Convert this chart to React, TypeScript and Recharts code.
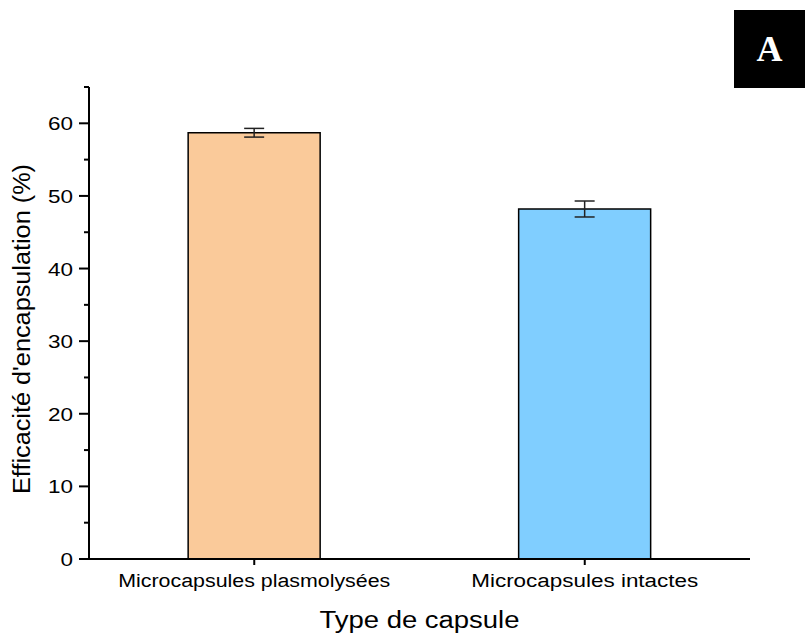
import React from 'react';
import { BarChart, Bar, XAxis, YAxis, ErrorBar, Cell } from 'recharts';

const categories = ['Microcapsules plasmolysées', 'Microcapsules intactes'];
const efficacite = [58.7, 48.2];
const ecartType = [0.6, 1.1];
const barColors = ['#FACA9A', '#80CEFF'];
const yTicks = [0, 5, 10, 15, 20, 25, 30, 35, 40, 45, 50, 55, 60, 65];

const data = categories.map((name, i) => ({ name, value: efficacite[i], err: ecartType[i] }));

const FONT = '"Liberation Sans", Arial, sans-serif';

// Approximate rendered widths for the long labels (Arial-like, slightly wide)
const xTickWidths: Record<string, number> = {
  'Microcapsules plasmolysées': 272,
  'Microcapsules intactes': 227,
};

const YTick = (props: any) => {
  const { x, y, payload } = props;
  const major = payload.value % 10 === 0 && payload.value !== 65;
  const len = major ? 10 : 5;
  const label = String(payload.value);
  return (
    <g>
      <line x1={x - len} x2={x} y1={y} y2={y} stroke="#000" strokeWidth={2} />
      {major && (
        <text
          x={x - 16}
          y={y}
          dy={7}
          textAnchor="end"
          fontSize={19}
          fill="#000"
          fontFamily={FONT}
          textLength={label.length * 12.5}
          lengthAdjust="spacingAndGlyphs"
        >
          {label}
        </text>
      )}
    </g>
  );
};

const XTick = (props: any) => {
  const { x, y, payload } = props;
  const w = xTickWidths[payload.value];
  return (
    <text
      x={x}
      y={y}
      dy={16}
      textAnchor="middle"
      fontSize={18}
      fill="#000"
      fontFamily={FONT}
      textLength={w}
      lengthAdjust="spacingAndGlyphs"
    >
      {payload.value}
    </text>
  );
};

const YLabel = (props: any) => {
  const { viewBox } = props;
  const cx = 22;
  const cy = viewBox.y + viewBox.height / 2 + 6;
  return (
    <text
      x={cx}
      y={cy}
      transform={`rotate(-90, ${cx}, ${cy})`}
      textAnchor="middle"
      dominantBaseline="central"
      fontSize={23}
      fill="#000"
      fontFamily={FONT}
      textLength={330}
      lengthAdjust="spacingAndGlyphs"
    >
      Efficacité d'encapsulation (%)
    </text>
  );
};

const XLabel = (props: any) => {
  const { viewBox } = props;
  const cx = viewBox.x + viewBox.width / 2;
  return (
    <text
      x={cx}
      y={620}
      textAnchor="middle"
      dominantBaseline="central"
      fontSize={23}
      fill="#000"
      fontFamily={FONT}
      textLength={200}
      lengthAdjust="spacingAndGlyphs"
    >
      Type de capsule
    </text>
  );
};

export default function App() {
  return (
    <div style={{ position: 'absolute', left: 0, top: 0, width: 805, height: 634, background: '#fff' }}>
      <BarChart
        width={805}
        height={634}
        data={data}
        margin={{ top: 87, right: 55, bottom: 0, left: 0 }}
        barCategoryGap="30%"
      >
        <XAxis
          dataKey="name"
          height={75}
          axisLine={{ stroke: '#000', strokeWidth: 2 }}
          tickLine={{ stroke: '#000', strokeWidth: 2 }}
          tickSize={6}
          tickMargin={6}
          tick={<XTick />}
          label={<XLabel />}
        />
        <YAxis
          width={89}
          domain={[0, 65]}
          ticks={yTicks}
          interval={0}
          tickSize={0}
          tickMargin={0}
          tickLine={false}
          axisLine={{ stroke: '#000', strokeWidth: 2 }}
          tick={<YTick />}
          label={<YLabel />}
        />
        <Bar dataKey="value" stroke="#000" strokeWidth={1.5} isAnimationActive={false}>
          {data.map((d, i) => (
            <Cell key={d.name} fill={barColors[i]} />
          ))}
          <ErrorBar dataKey="err" width={10} stroke="#222" strokeWidth={1.5} />
        </Bar>
      </BarChart>
      <div
        style={{
          position: 'absolute',
          left: 734,
          top: 10,
          width: 71,
          height: 78,
          background: '#000',
          color: '#fff',
          fontFamily: '"Liberation Serif", "Times New Roman", serif',
          fontWeight: 'bold',
          fontSize: 36,
          lineHeight: '78px',
          textAlign: 'center',
        }}
      >
        A
      </div>
    </div>
  );
}
